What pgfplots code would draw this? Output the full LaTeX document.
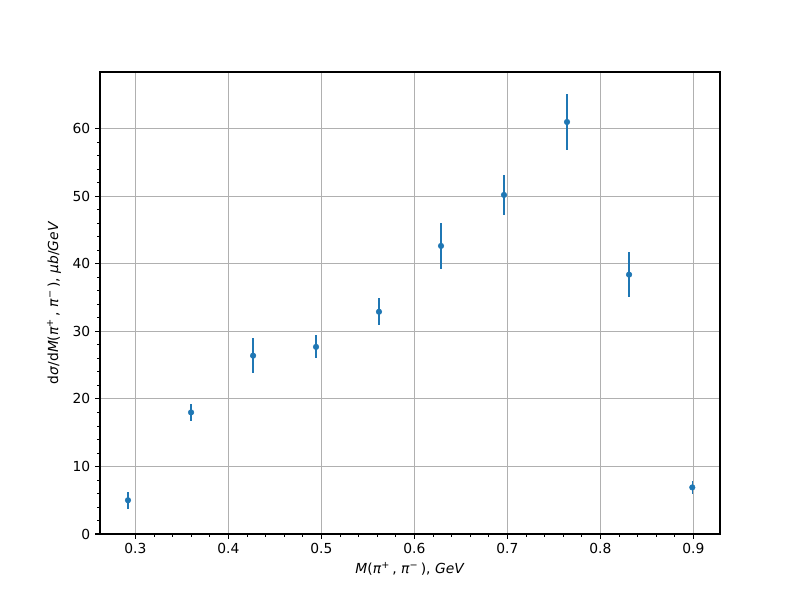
\documentclass[border=0pt]{standalone}
\usepackage{pgfplots}
\pgfplotsset{compat=1.18}
\usepackage{fontspec}
\setmainfont{DejaVu Sans}
\definecolor{mplblue}{HTML}{1F77B4}
\definecolor{gridgray}{HTML}{B0B0B0}
\begin{document}
\fontsize{10pt}{12pt}\selectfont
\begin{tikzpicture}[x=1in,y=1in]
\useasboundingbox (0,0) rectangle (8,6);
\begin{axis}[
  at={(1in,0.66in)}, anchor=south west,
  scale only axis, width=6.2in, height=4.62in,
  xmin=0.262, xmax=0.9287, ymin=0, ymax=68.4,
  xtick={0.3,0.4,0.5,0.6,0.7,0.8,0.9},
  xticklabels={0.3,0.4,0.5,0.6,0.7,0.8,0.9},
  ytick={0,10,20,30,40,50,60},
  minor x tick num=4, minor y tick num=4,
  tick align=outside, tick pos=left,
  major tick length=3.5pt, minor tick length=2pt,
  every tick/.style={black, line width=0.8pt},
  minor tick style={black, line width=0.6pt},
  xmajorgrids, ymajorgrids,
  major grid style={gridgray, line width=0.8pt},
  axis line style={line width=0.8pt},
  /pgf/number format/assume math mode=true,
  ticklabel style={font=\fontsize{10pt}{12pt}\selectfont},
  xlabel={\textit{M}(\textit{π}\textsuperscript{+}\,, \textit{π}\textsuperscript{−}\,), \textit{GeV}},
  ylabel={d\textit{σ}/d\textit{M}(\textit{π}\textsuperscript{+}\,, \textit{π}\textsuperscript{−}\,), \textit{μb}/\textit{GeV}},
  label style={font=\fontsize{10pt}{12pt}\selectfont},
  xlabel style={yshift=1pt},
  ylabel style={yshift=1.5pt},
]
\addplot[mplblue, only marks, mark=*, mark size=2pt,
  error bars/.cd, y dir=both, y explicit, error mark=none,
  error bar style={mplblue, line width=1.1pt}]
  table[x=x, y=y, y error=e] {
x y e
0.2921 5.0 1.25
0.3599 18.0 1.3
0.4266 26.4 2.6
0.4943 27.7 1.7
0.5620 32.9 2.0
0.6287 42.65 3.45
0.6964 50.2 3.0
0.7642 61.0 4.2
0.8309 38.4 3.3
0.8989 6.9 0.95
};
\end{axis}
\end{tikzpicture}
\end{document}
